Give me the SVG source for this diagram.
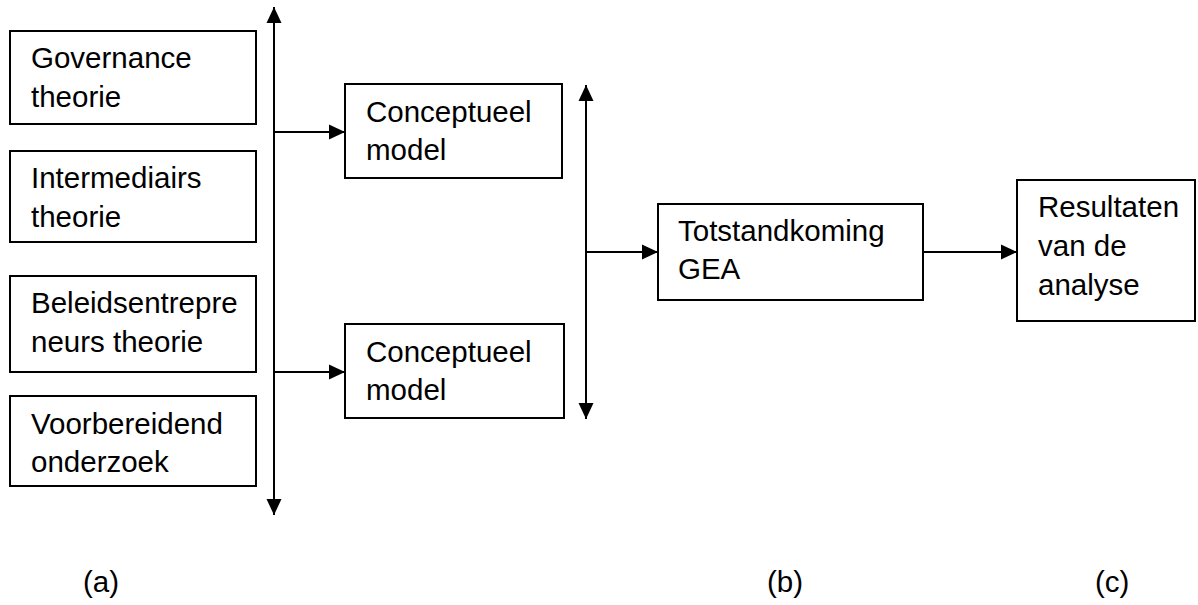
<svg xmlns="http://www.w3.org/2000/svg" width="1198" height="605" viewBox="0 0 1198 605">
<defs>
<style>
.box{fill:#fff;stroke:#000;stroke-width:2}
.t{font-family:"Liberation Sans",Arial,sans-serif;font-size:29.5px;fill:#000}
.c{fill:none;stroke:#000;stroke-width:2}
</style>
<marker id="ah" markerUnits="userSpaceOnUse" markerWidth="16" markerHeight="16" refX="16" refY="8" orient="auto-start-reverse" viewBox="0 0 16 16">
<path d="M0,0.5 L16,8 L0,15.5 z" fill="#000"/>
</marker>
</defs>
<rect width="1198" height="605" fill="#fff"/>
<g id="connectors">
<line class="c" x1="274" y1="7" x2="274" y2="515" marker-start="url(#ah)" marker-end="url(#ah)"/>
<line class="c" x1="274" y1="132" x2="345" y2="132" marker-end="url(#ah)"/>
<line class="c" x1="274" y1="372" x2="345" y2="372" marker-end="url(#ah)"/>
<line class="c" x1="586" y1="85" x2="586" y2="419" marker-start="url(#ah)" marker-end="url(#ah)"/>
<line class="c" x1="586" y1="252" x2="658" y2="252" marker-end="url(#ah)"/>
<line class="c" x1="923" y1="252" x2="1017" y2="252" marker-end="url(#ah)"/>
</g>
<g id="governance">
<rect class="box" x="10" y="31" width="246" height="93"/>
<text class="t" x="31" y="68">Governance</text>
<text class="t" x="31" y="107">theorie</text>
</g>
<g id="intermediairs">
<rect class="box" x="10" y="151" width="246" height="91"/>
<text class="t" x="31" y="188">Intermediairs</text>
<text class="t" x="31" y="227">theorie</text>
</g>
<g id="beleid">
<rect class="box" x="10" y="276" width="246" height="96"/>
<text class="t" x="31" y="313">Beleidsentrepre</text>
<text class="t" x="31" y="352">neurs theorie</text>
</g>
<g id="voorbereidend">
<rect class="box" x="10" y="396" width="246" height="90"/>
<text class="t" x="31" y="434">Voorbereidend</text>
<text class="t" x="31" y="472">onderzoek</text>
</g>
<g id="concept1">
<rect class="box" x="345" y="84" width="217" height="94"/>
<text class="t" x="366" y="122">Conceptueel</text>
<text class="t" x="366" y="160">model</text>
</g>
<g id="concept2">
<rect class="box" x="345" y="324" width="219" height="94"/>
<text class="t" x="366" y="362">Conceptueel</text>
<text class="t" x="366" y="400">model</text>
</g>
<g id="totstand">
<rect class="box" x="658" y="204" width="265" height="96"/>
<text class="t" x="678" y="241">Totstandkoming</text>
<text class="t" x="678" y="279">GEA</text>
</g>
<g id="resultaten">
<rect class="box" x="1017" y="180" width="178" height="141"/>
<text class="t" x="1038" y="217">Resultaten</text>
<text class="t" x="1038" y="256">van de</text>
<text class="t" x="1038" y="295">analyse</text>
</g>
<g id="labels">
<text class="t" x="83" y="592">(a)</text>
<text class="t" x="767" y="592">(b)</text>
<text class="t" x="1095" y="592">(c)</text>
</g>
</svg>
